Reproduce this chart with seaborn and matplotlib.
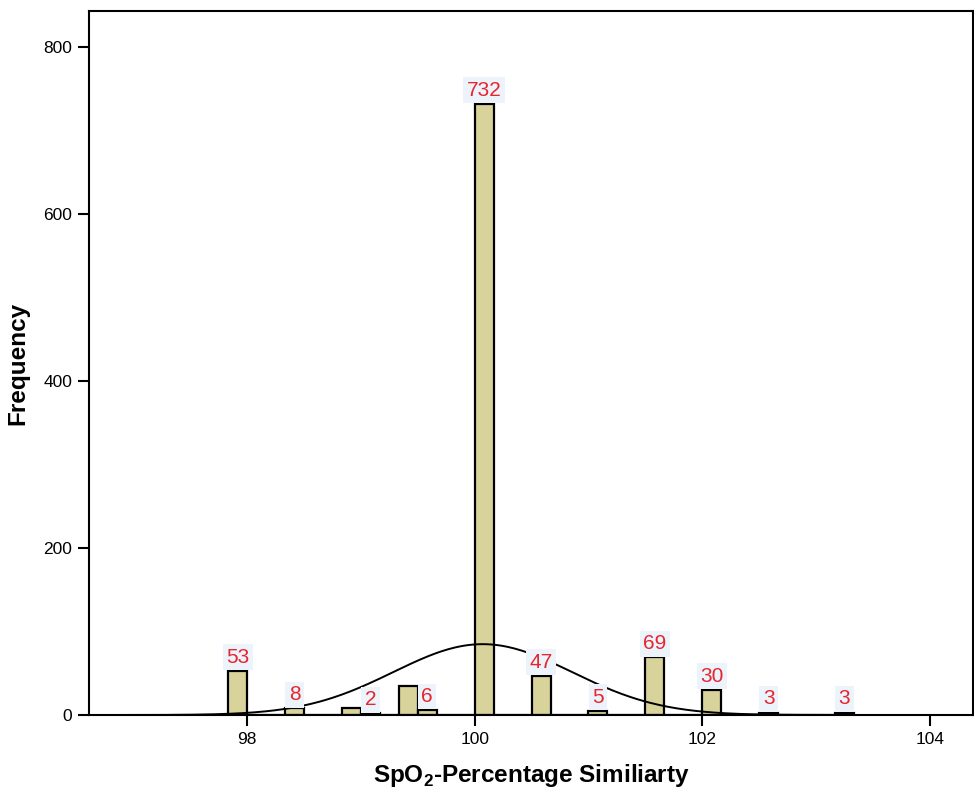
import numpy as np
import pandas as pd
import matplotlib
matplotlib.use("Agg")
import matplotlib.pyplot as plt
import seaborn as sns

# Histogram of SpO2 percentage similarity (bin width 1/6 %)
bin_width = 1 / 6
bin_start = [97.8333, 98.3333, 98.8333, 99.0, 99.3333, 99.5, 100.0,
             100.5, 101.0, 101.5, 102.0, 102.5, 103.1667]
counts = [53, 8, 9, 2, 35, 6, 732, 47, 5, 69, 30, 3, 3]
show_label = [True, True, False, True, False, True, True,
              True, True, True, True, True, True]

# Fitted normal curve parameters
curve_mean = 100.07
curve_sd = 0.785

x_ticks = [98, 100, 102, 104]
y_ticks = [0, 200, 400, 600, 800]

sns.set_theme(style="white")
plt.rcParams["font.family"] = ["Liberation Sans", "DejaVu Sans"]
plt.rcParams["mathtext.fontset"] = "custom"
plt.rcParams["mathtext.rm"] = "Liberation Sans:bold"
plt.rcParams["mathtext.bf"] = "Liberation Sans:bold"

df = pd.DataFrame({"center": np.array(bin_start) + bin_width / 2,
                   "count": counts, "label": show_label})

fig = plt.figure(figsize=(9.74, 7.90), dpi=100)
ax = fig.add_axes([0.0914, 0.0949, 0.9076, 0.8911])

edges = [float(bin_start[0] + i * bin_width) for i in range(34)]
sns.histplot(data=df, x="center", weights="count", bins=edges,
             color="#d8d39a", alpha=1.0, edgecolor="black", linewidth=1.6,
             ax=ax)

# normal curve scaled to counts
xs = np.linspace(96.6, 104.4, 400)
n = sum(counts)
ys = n * bin_width * np.exp(-0.5 * ((xs - curve_mean) / curve_sd) ** 2) / (curve_sd * np.sqrt(2 * np.pi))
sns.lineplot(x=xs, y=ys, color="black", linewidth=1.4, ax=ax)

for _, r in df.iterrows():
    if r["label"]:
        ax.annotate(f"{int(r['count'])}", (r["center"], r["count"]),
                    xytext=(0, 3), textcoords="offset points",
                    ha="center", va="bottom", fontsize=15, color="#e5262f",
                    bbox=dict(boxstyle="square,pad=0.16", fc="#edf3fb", ec="none"))

ax.set_xlim(96.61, 104.38)
ax.set_ylim(0, 843)
ax.set_xticks(x_ticks)
ax.set_yticks(y_ticks)
ax.tick_params(axis="both", which="major", length=8, width=1.5,
               labelsize=12.5, color="black", labelcolor="black",
               bottom=True, left=True, direction="out", pad=4)
for s in ax.spines.values():
    s.set_visible(True)
    s.set_color("black")
    s.set_linewidth(1.5)

ax.set_xlabel(r"SpO$_\mathbf{2}$-Percentage Similiarty", fontsize=17.5,
              fontweight="bold", color="black", labelpad=11)
ax.set_ylabel("Frequency", fontsize=17.5, fontweight="bold", color="black",
              labelpad=10)

fig.savefig("out.png", dpi=100)
